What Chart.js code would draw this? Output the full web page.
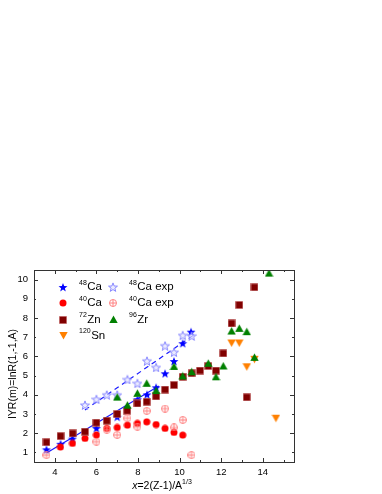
<!DOCTYPE html>
<html>
<head>
<meta charset="utf-8">
<script src="https://cdn.jsdelivr.net/npm/chart.js"></script>
<style>
  body { margin: 0; background: #fff; }
  canvas { display: block; }
</style>
</head>
<body>
<canvas id="chart" width="382" height="494"></canvas>
<script>
// x = 2(Z-1)/A^(1/3), y = IYR(m)
var ca48X = [3.6, 4.28, 4.85, 6.0, 7.0, 7.97, 8.43, 8.87, 9.3, 9.73, 10.15, 10.55];
var ca48Y = [1.16, 1.45, 1.72, 2.27, 2.86, 3.77, 4.02, 4.39, 5.12, 5.76, 6.69, 7.29];

var ca48ExpX = [5.45, 6.0, 6.5, 7.0, 7.49, 7.97, 8.43, 8.87, 9.3, 9.73, 10.15, 10.58];
var ca48ExpY = [3.47, 3.77, 4.0, 4.0, 4.8, 4.6, 5.77, 5.43, 6.56, 6.22, 7.1, 7.07];

var ca40X = [4.27, 4.85, 5.45, 6.0, 6.5, 7.0, 7.49, 7.97, 8.42, 8.87, 9.3, 9.73, 10.15];
var ca40Y = [1.28, 1.47, 1.73, 1.91, 2.25, 2.3, 2.42, 2.51, 2.59, 2.45, 2.25, 2.04, 1.9];

var ca40ExpX = [3.6, 6.0, 6.5, 7.0, 7.49, 7.97, 8.42, 9.3, 9.73, 10.15, 10.57];
var ca40ExpY = [0.86, 1.56, 2.18, 1.91, 2.78, 2.34, 3.16, 3.28, 2.3, 2.69, 0.86];

var zn72X = [3.6, 4.28, 4.86, 5.45, 6.0, 6.5, 7.0, 7.48, 7.97, 8.42, 8.87, 9.3, 9.73, 10.15, 10.58, 10.98, 11.38, 11.75, 12.1, 12.5, 12.87, 13.23, 13.6];
var zn72Y = [1.53, 1.85, 1.99, 2.08, 2.55, 2.65, 3.0, 3.17, 3.55, 3.64, 3.92, 4.27, 4.51, 4.94, 5.12, 5.26, 5.5, 5.26, 6.16, 7.72, 8.68, 3.87, 9.6];

var zr96X = [7.0, 7.49, 7.97, 8.42, 8.87, 9.73, 10.15, 10.58, 11.38, 11.75, 12.1, 12.5, 12.87, 13.23, 13.6, 14.3];
var zr96Y = [3.88, 3.46, 4.08, 4.6, 4.22, 5.48, 4.98, 5.2, 5.64, 4.94, 5.5, 7.32, 7.46, 7.29, 5.95, 10.34];

var sn120X = [12.5, 12.87, 13.23, 13.6, 14.63];
var sn120Y = [6.7, 6.7, 5.46, 5.85, 2.78];

// straight lines through the 48Ca points (theory solid, exp dashed)
var fitX = [3.6, 9.0];
var fitY = [0.97, 4.46];
var expFitX = [5.45, 10.66];
var expFitY = [3.21, 7.1];

var xTicks = [4, 6, 8, 10, 12, 14];
var yTicks = [1, 2, 3, 4, 5, 6, 7, 8, 9, 10];

function toPoints(xs, ys) {
    return xs.map((x, i) => ({ x: x, y: ys[i] }));
}

// Draw a marker on a small canvas so it can be used as pointStyle
function makeMarker(kind, fill, stroke, size) {
    const c = document.createElement('canvas');
    c.width = size;
    c.height = size;
    const g = c.getContext('2d');
    const m = size / 2;
    g.beginPath();
    if (kind === 'star') {
        const ro = m - 0.3, ri = ro * 0.42;
        for (let i = 0; i < 10; i++) {
            const r = i % 2 === 0 ? ro : ri;
            const a = -Math.PI / 2 + i * Math.PI / 5;
            const px = m + r * Math.cos(a), py = m + 0.6 + r * Math.sin(a);
            if (i === 0) g.moveTo(px, py); else g.lineTo(px, py);
        }
        g.closePath();
    } else if (kind === 'circle') {
        g.arc(m, m, m - 0.5, 0, Math.PI * 2);
    } else if (kind === 'square') {
        g.rect(0.5, 0.5, size - 1, size - 1);
    } else if (kind === 'up') {
        g.moveTo(m, 0.5);
        g.lineTo(size - 0.3, size - 1);
        g.lineTo(0.3, size - 1);
        g.closePath();
    } else if (kind === 'down') {
        g.moveTo(0.3, 1);
        g.lineTo(size - 0.3, 1);
        g.lineTo(m, size - 0.5);
        g.closePath();
    }
    if (fill) { g.fillStyle = fill; g.fill(); }
    if (stroke) { g.strokeStyle = stroke; g.lineWidth = 1; g.stroke(); }
    if (kind === 'circle' && !fill) {
        // crossed circle for the 40Ca exp points
        g.beginPath();
        g.moveTo(m, 1); g.lineTo(m, size - 1);
        g.moveTo(1, m); g.lineTo(size - 1, m);
        g.stroke();
    }
    return c;
}

const mStar = makeMarker('star', '#0000ff', null, 10);
const mStarExp = makeMarker('star', 'rgba(225,225,255,0.7)', '#8a8aff', 10);
const mCircle = makeMarker('circle', '#ff0000', null, 8);
const mCircleExp = makeMarker('circle', null, '#ff8080', 8);
const mSquare = makeMarker('square', '#800000', 'rgba(190,90,90,0.6)', 8);
const mUp = makeMarker('up', '#008000', null, 9);
const mDown = makeMarker('down', '#ff8000', null, 9);

function scatterSet(label, xs, ys, marker) {
    return {
        label: label,
        data: toPoints(xs, ys),
        pointStyle: marker,
        pointRadius: 4,
        showLine: false
    };
}

function lineSet(label, xs, ys, dash) {
    return {
        label: label,
        data: toPoints(xs, ys),
        showLine: true,
        pointRadius: 0,
        borderColor: '#1a1aff',
        borderWidth: 1.2,
        borderDash: dash
    };
}

// Text with a leading superscript, e.g. 48Ca
function supText(ctx, x, y, sup, text, size) {
    ctx.textAlign = 'left';
    ctx.textBaseline = 'middle';
    ctx.font = Math.round(size * 0.65) + 'px "Liberation Sans", Arial';
    ctx.fillText(sup, x, y - size * 0.38);
    const w = ctx.measureText(sup).width;
    ctx.font = size + 'px "Liberation Sans", Arial';
    ctx.fillText(text, x + w + 0.5, y);
}

const legendItems = [
    { marker: mStar, x: 63, y: 287, sup: '48', text: 'Ca' },
    { marker: mCircle, x: 63, y: 303, sup: '40', text: 'Ca' },
    { marker: mSquare, x: 63, y: 319.5, sup: '72', text: 'Zn' },
    { marker: mDown, x: 63, y: 335.5, sup: '120', text: 'Sn' },
    { marker: mStarExp, x: 113, y: 287, sup: '48', text: 'Ca exp' },
    { marker: mCircleExp, x: 113, y: 303, sup: '40', text: 'Ca exp' },
    { marker: mUp, x: 113, y: 319.5, sup: '96', text: 'Zr' }
];

// Frame, inward ticks on all four sides, legend and axis titles
const framePlugin = {
    id: 'frame',
    afterDraw(chart) {
        const ctx = chart.ctx;
        const a = chart.chartArea;
        const sx = chart.scales.x, sy = chart.scales.y;
        ctx.save();
        ctx.strokeStyle = '#333';
        ctx.lineWidth = 1;
        ctx.strokeRect(Math.round(a.left) + 0.5, Math.round(a.top) + 0.5,
            Math.round(a.right - a.left), Math.round(a.bottom - a.top));

        ctx.beginPath();
        for (let v = 3; v <= 15; v++) {
            const len = v % 2 === 0 ? 4 : 2;
            const px = Math.round(sx.getPixelForValue(v)) + 0.5;
            ctx.moveTo(px, a.bottom); ctx.lineTo(px, a.bottom - len);
            ctx.moveTo(px, a.top); ctx.lineTo(px, a.top + len);
        }
        for (let v = 1; v <= 10; v++) {
            const len = v % 2 === 0 ? 4 : 2;
            const py = Math.round(sy.getPixelForValue(v)) + 0.5;
            ctx.moveTo(a.left, py); ctx.lineTo(a.left + len, py);
            ctx.moveTo(a.right, py); ctx.lineTo(a.right - len, py);
        }
        ctx.stroke();

        // legend
        ctx.fillStyle = '#000';
        legendItems.forEach(item => {
            const mk = item.marker;
            ctx.drawImage(mk, Math.round(item.x - mk.width / 2), Math.round(item.y - mk.height / 2));
            supText(ctx, item.x + 16, item.y, item.sup, item.text, 11.5);
        });

        // y title
        ctx.save();
        ctx.translate(13, 374);
        ctx.rotate(-Math.PI / 2);
        ctx.font = '10.5px "Liberation Sans", Arial';
        ctx.textAlign = 'center';
        ctx.textBaseline = 'middle';
        ctx.fillText('IYR(m)=lnR(1,-1,A)', 0, 0);
        ctx.restore();

        // x title: italic x, then =2(Z-1)/A with superscript 1/3
        const parts = [
            { t: 'x', f: 'italic 10.5px "Liberation Sans", Arial', dy: 0 },
            { t: '=2(Z-1)/A', f: '10.5px "Liberation Sans", Arial', dy: 0 },
            { t: '1/3', f: '7px "Liberation Sans", Arial', dy: -4 }
        ];
        let total = 0;
        parts.forEach(p => { ctx.font = p.f; p.w = ctx.measureText(p.t).width; total += p.w; });
        let cx = 162 - total / 2;
        ctx.textAlign = 'left';
        ctx.textBaseline = 'middle';
        parts.forEach(p => {
            ctx.font = p.f;
            ctx.fillText(p.t, cx, 486 + p.dy);
            cx += p.w;
        });
        ctx.restore();
    }
};

new Chart(document.getElementById('chart'), {
    type: 'scatter',
    data: {
        datasets: [
            scatterSet('96Zr', zr96X, zr96Y, mUp),
            scatterSet('40Ca exp', ca40ExpX, ca40ExpY, mCircleExp),
            scatterSet('48Ca exp', ca48ExpX, ca48ExpY, mStarExp),
            scatterSet('120Sn', sn120X, sn120Y, mDown),
            scatterSet('72Zn', zn72X, zn72Y, mSquare),
            scatterSet('40Ca', ca40X, ca40Y, mCircle),
            scatterSet('48Ca', ca48X, ca48Y, mStar),
            lineSet('48Ca fit', fitX, fitY, []),
            lineSet('48Ca exp fit', expFitX, expFitY, [5, 4])
        ]
    },
    options: {
        responsive: false,
        animation: false,
        layout: { padding: { left: 0, top: 270, right: 88, bottom: 0 } },
        plugins: {
            legend: { display: false },
            tooltip: { enabled: false }
        },
        scales: {
            x: {
                type: 'linear',
                min: 3,
                max: 15.5,
                afterBuildTicks: s => { s.ticks = xTicks.map(v => ({ value: v })); },
                afterFit: s => { s.height = 32; },
                grid: { display: false, drawTicks: false },
                border: { display: false },
                ticks: {
                    color: '#000',
                    padding: 5,
                    font: { size: 9.5, family: '"Liberation Sans", Arial' }
                }
            },
            y: {
                type: 'linear',
                min: 0.5,
                max: 10.5,
                afterBuildTicks: s => { s.ticks = yTicks.map(v => ({ value: v })); },
                afterFit: s => { s.width = 34; },
                grid: { display: false, drawTicks: false },
                border: { display: false },
                ticks: {
                    color: '#000',
                    padding: 6,
                    font: { size: 9.5, family: '"Liberation Sans", Arial' }
                }
            }
        }
    },
    plugins: [framePlugin]
});
</script>
</body>
</html>
